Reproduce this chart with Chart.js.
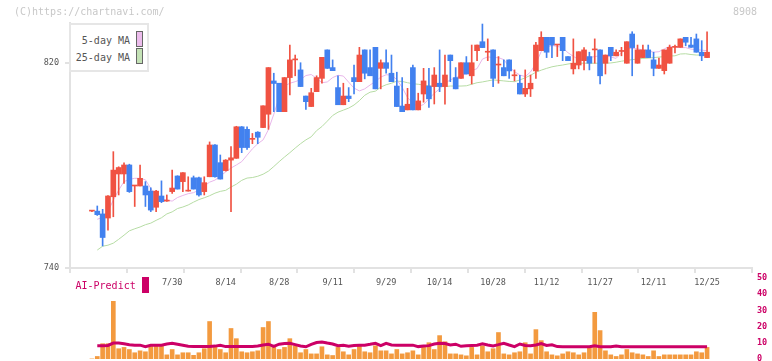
<!DOCTYPE html>
<html><head><meta charset="utf-8">
<script src="https://cdn.jsdelivr.net/npm/chart.js@4/dist/chart.umd.min.js"></script>
<style>
html,body{margin:0;padding:0;background:#fff;}
#wrap{position:relative;width:772px;height:361px;overflow:hidden;font-family:'DejaVu Sans Mono',monospace;}
canvas{position:absolute;left:0;top:0;}
.t{position:absolute;white-space:nowrap;font-size:10px;line-height:10px;}
</style></head><body>
<div id="wrap">
<canvas id="price" width="772" height="361"></canvas>
<canvas id="vol" width="772" height="369"></canvas>
<div class="t" style="left:14px;top:7px;color:#c8c8c8">(C)https://chartnavi.com/</div>
<div class="t" style="left:733px;top:7px;color:#c8c8c8">8908</div>
<div style="position:absolute;box-sizing:border-box;left:69px;top:23px;width:80px;height:49px;border:2px solid #e6e6e6;background:#fff;"></div>
<div class="t" style="left:70px;width:60px;text-align:right;top:36px;color:#555">5-day MA</div>
<div style="position:absolute;box-sizing:border-box;left:136px;top:31px;width:7px;height:16px;border:1px solid #666;background:#ecbcec"></div>
<div class="t" style="left:70px;width:60px;text-align:right;top:52.5px;color:#555">25-day MA</div>
<div style="position:absolute;box-sizing:border-box;left:136px;top:48px;width:7px;height:16px;border:1px solid #666;background:#c4e2b6"></div>
<div class="t" style="left:75.5px;top:281.3px;color:#cc0066">AI-Predict</div>
<div style="position:absolute;left:142px;top:277px;width:7px;height:16px;background:#cc0066"></div>
</div>
<script>
const dates = ['7/8','7/9','7/10','7/11','7/14','7/15','7/16','7/17','7/18','7/22','7/23','7/24','7/25','7/28','7/29','7/30','7/31',
'8/1','8/4','8/5','8/6','8/7','8/8','8/12','8/13','8/14','8/15','8/18','8/19','8/20','8/21','8/22','8/25','8/26','8/27','8/28','8/29',
'9/1','9/2','9/3','9/4','9/5','9/8','9/9','9/10','9/11','9/12','9/16','9/17','9/18','9/19','9/22','9/24','9/25','9/26','9/29','9/30',
'10/1','10/2','10/3','10/6','10/7','10/8','10/9','10/10','10/14','10/15','10/16','10/17','10/20','10/21','10/22','10/23','10/24','10/27','10/28','10/29','10/30','10/31',
'11/4','11/5','11/6','11/7','11/10','11/11','11/12','11/13','11/14','11/17','11/18','11/19','11/20','11/21','11/25','11/26','11/27','11/28',
'12/1','12/2','12/3','12/4','12/5','12/8','12/9','12/10','12/11','12/12','12/15','12/16','12/17','12/18','12/19','12/22','12/23','12/24','12/25'];
const tickLabels = ['7/30','8/14','8/28','9/11','9/29','10/14','10/28','11/12','11/27','12/11','12/25'];
const priceTicks = [740, 820];
const volTicks = [0, 10, 20, 30, 40, 50];

const openP = [
762.2,762.2,761.1,759.5,767.8,776.7,776.7,780.2,772.0,772.0,
772.0,770.0,763.7,768.1,766.1,769.8,775.9,773.7,770.0,775.2,
775.2,769.8,775.6,788.0,781.1,778.0,782.1,782.8,795.1,794.1,
790.2,793.0,794.8,800.0,813.0,812.1,801.0,814.3,821.2,817.3,
807.1,803.0,808.8,814.0,825.1,818.2,810.4,803.7,807.1,814.3,
812.7,825.1,818.2,826.1,817.9,820.1,816.0,811.0,803.2,801.7,
818.2,801.7,807.9,811.0,810.8,812.1,810.8,823.1,814.3,814.0,
820.1,815.0,824.8,828.3,824.2,825.1,819.2,818.2,821.2,815.0,
812.1,807.9,809.9,816.9,824.8,830.0,830.0,827.0,830.0,822.5,
817.7,819.2,820.9,822.5,825.1,825.1,819.9,826.1,822.8,824.5,
819.9,831.3,819.9,822.1,825.1,821.2,817.9,817.0,819.9,826.1,
826.1,830.0,827.0,829.4,824.2,822.1];
const highP = [
762.5,764.2,762.9,768.3,785.4,779.5,781.0,780.5,772.2,780.2,
773.7,771.3,770.3,774.0,768.5,778.2,776.0,777.2,775.6,775.9,
775.5,775.6,789.2,788.2,784.1,782.3,787.4,795.3,795.2,795.1,
792.5,793.2,803.3,818.2,816.0,812.1,814.3,827.0,823.1,820.1,
807.1,810.1,815.0,822.2,825.1,821.2,815.0,812.1,810.4,819.2,
826.1,825.1,825.1,826.1,821.2,825.1,823.1,816.4,814.3,810.1,
819.2,808.2,817.9,817.9,818.2,825.1,823.1,823.1,818.2,820.1,
822.5,827.0,827.0,835.2,829.4,825.1,822.5,821.2,821.2,817.3,
815.2,817.3,815.3,828.1,832.2,830.0,830.0,827.2,830.0,822.5,
829.4,824.4,826.0,824.2,829.4,825.1,823.1,826.1,825.1,826.1,
828.3,832.2,827.0,827.0,827.0,824.2,821.9,825.1,827.0,827.0,
829.4,830.0,830.0,831.3,828.7,832.2];
const lowP = [
762.0,760.5,748.6,754.8,760.0,768.5,773.0,769.5,764.0,772.0,
764.0,762.0,762.0,765.5,766.0,769.1,770.8,769.8,770.0,770.8,
768.0,768.5,775.6,775.4,774.7,777.8,762.0,782.8,785.0,786.3,
788.5,788.5,794.8,794.1,801.0,801.0,801.0,807.5,815.0,810.8,
801.9,803.0,808.8,812.1,817.9,817.0,803.7,803.7,804.9,807.9,
812.7,813.8,815.0,809.9,809.9,816.0,812.7,803.0,801.0,801.7,
801.7,801.7,804.7,802.7,804.0,808.8,803.9,812.7,809.9,814.0,
815.7,811.8,820.9,826.0,820.9,810.8,812.1,815.0,814.0,813.0,
807.9,806.9,806.9,814.0,824.8,822.1,822.1,822.5,820.9,820.9,
815.7,817.7,817.3,817.3,819.9,811.8,815.7,820.9,822.8,822.8,
819.9,815.0,819.9,822.1,822.1,815.0,817.9,815.7,819.9,823.9,
826.1,826.7,826.1,824.2,820.9,822.1];
const closeP = [
762.2,760.8,751.9,768.1,778.2,779.2,780.2,769.8,772.0,775.0,
768.5,762.6,770.0,765.9,766.1,771.2,770.8,777.2,770.0,770.8,
768.5,773.3,788.0,775.6,774.7,782.1,783.0,795.1,787.0,787.0,
790.5,791.0,803.3,818.2,812.0,801.0,814.3,821.2,821.2,810.8,
804.9,808.4,814.3,822.2,817.9,817.0,803.7,807.1,806.1,812.7,
823.1,816.0,815.0,809.9,820.1,817.9,812.7,803.0,801.0,803.9,
801.7,805.2,813.0,806.0,815.3,810.8,815.3,820.9,809.9,820.1,
815.7,820.1,827.0,826.0,824.2,814.0,819.2,815.0,816.9,815.0,
807.9,810.1,812.1,827.0,830.0,824.2,827.0,827.0,824.8,820.9,
819.9,824.4,825.1,819.9,825.1,815.0,823.1,822.8,824.2,824.5,
828.3,826.0,825.1,825.1,822.1,817.9,819.2,825.1,826.1,826.1,
829.4,828.1,826.1,824.2,822.8,824.2];
const ma5 = [
null,759.0,759.8,762.0,766.5,770.4,773.7,774.6,775.0,775.0,
774.4,771.1,768.0,767.0,766.5,766.1,767.5,768.3,769.0,769.4,
770.4,772.0,773.5,774.3,775.8,777.5,779.0,780.2,781.5,784.0,
786.5,788.5,790.0,794.0,800.0,806.5,811.0,812.1,812.7,813.5,
815.1,815.5,814.0,812.3,812.6,814.3,815.2,814.9,812.5,810.2,
809.1,809.9,811.4,812.8,814.5,815.4,815.3,813.5,810.5,806.5,
804.3,803.0,803.8,806.0,808.2,809.9,812.1,813.4,814.3,815.0,
815.8,817.0,817.8,821.5,822.4,822.1,822.1,821.3,818.6,816.6,
815.3,814.7,816.5,819.8,824.5,826.2,826.8,826.5,825.9,824.0,
822.6,821.3,821.6,822.1,822.5,822.8,823.0,822.3,821.8,824.0,
825.6,825.7,825.5,825.1,824.7,824.2,824.4,825.5,826.5,826.2,
826.0,826.0,825.4,825.2,825.0,824.8];
const ma25 = [
null,747.0,748.5,748.9,749.7,751.2,752.8,754.5,755.3,756.0,
756.9,757.5,758.6,759.6,761.1,761.9,763.2,763.8,764.6,765.7,
766.7,767.4,768.2,769.2,769.9,770.3,771.6,772.7,774.2,775.1,
775.3,775.8,776.6,777.8,779.6,781.5,783.3,785.0,786.8,788.5,
790.0,791.2,793.6,795.2,797.3,799.5,800.8,801.6,802.4,803.6,
805.3,807.4,808.6,809.0,810.6,811.5,812.1,812.9,812.8,812.3,
811.9,811.7,811.4,811.1,810.9,810.8,810.8,811.0,811.0,811.0,
811.1,811.7,812.3,812.6,813.0,813.4,813.2,813.0,812.8,812.7,
813.4,814.2,815.2,816.4,817.2,817.9,818.5,818.9,819.2,819.6,
819.9,819.9,819.9,819.9,819.9,819.9,819.9,820.0,820.3,820.7,
821.0,821.3,821.5,821.8,821.9,822.1,822.3,822.5,822.7,822.8,
823.5,823.6,823.3,823.1,823.1,823.1];
const volume = [
0,1.5,9.4,9.4,35.6,6.3,7.1,5.8,3.8,5.0,
4.4,8.1,8.1,8.1,2.5,5.8,2.5,3.8,3.8,2.2,
3.8,6.3,23.1,8.1,5.8,3.8,18.8,12.5,4.4,3.8,
4.4,5.0,19.4,23.1,7.5,5.8,7.1,12.5,8.1,3.8,
5.8,3.1,3.1,7.5,2.5,2.1,7.1,4.4,2.5,5.8,
8.1,4.4,3.8,8.1,5.0,5.0,3.1,5.8,3.1,3.8,
5.0,2.5,7.5,10.0,5.8,14.4,10.6,3.1,3.1,2.5,
1.9,7.1,2.5,8.1,4.4,6.3,16.3,3.1,2.5,3.8,
4.4,10.0,3.1,18.1,11.3,4.4,2.5,1.9,3.1,4.4,
3.8,2.5,3.8,7.1,28.8,17.5,5.0,2.5,1.5,2.5,
5.8,3.8,3.1,2.5,1.5,5.0,1.5,2.5,2.5,2.5,
2.5,2.5,2.5,4.4,3.8,7.1];
const predict = [
null,8.1,8.1,8.3,9.8,9.8,9.4,8.8,8.5,8.5,
7.6,8.4,8.5,8.5,9.2,9.6,9.0,8.4,7.8,7.7,
7.7,7.7,7.7,7.9,8.4,7.6,7.6,7.7,7.7,7.7,
7.7,8.0,8.6,9.1,7.8,9.1,9.5,9.6,8.8,8.0,
7.5,9.0,10.1,10.5,9.8,9.2,8.1,8.4,7.8,8.3,
8.5,8.5,9.0,9.6,8.2,9.6,8.6,8.5,8.5,8.5,
8.5,7.6,8.0,8.2,9.2,9.7,9.5,8.6,9.1,7.8,
8.1,8.3,8.5,9.3,8.6,8.0,8.8,9.7,8.6,7.6,
9.2,8.3,8.1,8.6,9.5,8.3,8.7,7.6,7.5,7.5,
7.5,7.5,7.5,7.5,8.1,7.5,7.5,7.5,8.0,7.5,
7.5,7.5,7.5,7.5,7.5,7.5,7.5,7.5,7.5,7.5,
7.5,7.5,7.5,7.5,7.5,7.5];

const UP = '#f05242', DOWN = '#4281ef';
const MONO = "'DejaVu Sans Mono', monospace";
const X_MIN = -4.1, X_MAX = 123.4;
const candleColors = openP.map((o, i) => closeP[i] >= o ? UP : DOWN);
const tickIdx = tickLabels.map(l => dates.indexOf(l));

new Chart(document.getElementById('price'), {
  type: 'bar',
  data: {
    datasets: [
      { label: 'body', xAxisID: 'x', yAxisID: 'y', grouped: false, order: 0,
        data: dates.map((d, i) => ({ x: i, y: [openP[i], closeP[i]] })),
        backgroundColor: candleColors, barThickness: 5, minBarLength: 1 },
      { label: 'wick', xAxisID: 'x', yAxisID: 'y', grouped: false, order: 1,
        data: dates.map((d, i) => ({ x: i, y: [lowP[i], highP[i]] })),
        backgroundColor: candleColors, barThickness: 1, minBarLength: 1 },
      { type: 'line', label: '5-day MA', xAxisID: 'x', yAxisID: 'y', order: 3,
        data: dates.map((d, i) => ({ x: i, y: ma5[i] })),
        borderColor: '#e8b6ea', borderWidth: 1, pointRadius: 0, tension: 0 },
      { type: 'line', label: '25-day MA', xAxisID: 'x', yAxisID: 'y', order: 4,
        data: dates.map((d, i) => ({ x: i, y: ma25[i] })),
        borderColor: '#b6dca4', borderWidth: 1, pointRadius: 0, tension: 0 }
    ]
  },
  options: {
    responsive: false, animation: false, devicePixelRatio: 1,
    layout: { padding: { left: 0, right: 20, top: 23, bottom: 69 } },
    plugins: { legend: { display: false }, tooltip: { enabled: false } },
    scales: {
      y: { position: 'left', min: 740, max: 835.6,
        afterBuildTicks: s => { s.ticks = priceTicks.map(v => ({ value: v })); },
        ticks: { font: { family: MONO, size: 8.5 }, color: '#555', padding: 6 },
        grid: { drawOnChartArea: false, tickLength: 5, color: '#e2e2e2', lineWidth: 2 },
        border: { color: '#e2e2e2', width: 2 },
        afterFit: s => { s.width = 70; } },
      xt: { axis: 'x', type: 'linear', position: 'bottom', weight: 0, min: 0, max: 11,
        ticks: { stepSize: 1, display: false },
        grid: { drawOnChartArea: false, drawTicks: true, tickLength: 5, color: '#e2e2e2', lineWidth: 2 },
        border: { color: '#e2e2e2', width: 2 },
        afterFit: s => { s.height = 0; } },
      x: { type: 'linear', position: 'bottom', weight: 1, min: X_MIN, max: X_MAX, offset: false,
        afterBuildTicks: s => { s.ticks = tickIdx.map(v => ({ value: v })); },
        ticks: { autoSkip: false, maxRotation: 0, font: { family: MONO, size: 8.5 }, color: '#555', padding: 10,
          callback: v => dates[v] },
        grid: { display: false, drawTicks: false }, border: { display: false },
        afterFit: s => { s.height = 24; } }
    }
  }
});

new Chart(document.getElementById('vol'), {
  type: 'bar',
  data: {
    datasets: [
      { type: 'line', label: 'AI-Predict', order: 0,
        data: dates.map((d, i) => ({ x: i, y: predict[i] })),
        borderColor: '#cc0066', borderWidth: 3, pointRadius: 0, tension: 0 },
      { label: 'volume', order: 1,
        data: dates.map((d, i) => ({ x: i, y: volume[i] })),
        backgroundColor: '#f39a3f', barThickness: 4 }
    ]
  },
  options: {
    responsive: false, animation: false, devicePixelRatio: 1,
    layout: { padding: { left: 70, right: 0, top: 278, bottom: 3 } },
    plugins: { legend: { display: false }, tooltip: { enabled: false } },
    scales: {
      x: { type: 'linear', min: X_MIN, max: X_MAX, display: false, offset: false },
      y: { position: 'right', min: 0, max: 50,
        afterBuildTicks: s => { s.ticks = volTicks.map(v => ({ value: v })); },
        ticks: { font: { family: MONO, size: 8.5, weight: 'bold' }, color: '#cc0066', padding: 5 },
        grid: { display: false, drawTicks: false }, border: { display: false },
        afterFit: s => { s.width = 20; } }
    }
  }
});
</script>
</body></html>
